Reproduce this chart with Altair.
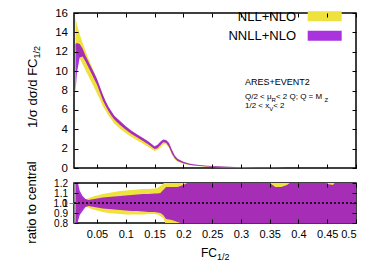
import altair as alt
import pandas as pd

FONT = "Liberation Sans"
YEL = "#efe23e"
PUR = "#9400d3"

# ---- top panel: 1/sigma dsigma/dFC_{1/2} bands ----
x_top = [0.0125, 0.015, 0.02, 0.025, 0.03, 0.035, 0.04, 0.045, 0.05, 0.055,
         0.06, 0.065, 0.07, 0.075, 0.08, 0.09, 0.10, 0.11, 0.12, 0.13,
         0.14, 0.15, 0.155, 0.16, 0.165, 0.17, 0.175, 0.18, 0.185, 0.19,
         0.20, 0.21, 0.22, 0.24, 0.26, 0.28, 0.30, 0.33, 0.36, 0.38]
nnll_lo = [7.7, 9.8, 11.4, 11.5, 11.0, 10.4, 9.8, 9.2, 8.6, 7.8,
           7.0, 6.4, 5.85, 5.4, 5.0, 4.45, 3.95, 3.5, 3.15, 2.8,
           2.4, 1.95, 2.05, 2.35, 2.65, 2.6, 2.2, 1.5, 1.0, 0.72,
           0.48, 0.34, 0.25, 0.15, 0.10, 0.06, 0.04, 0.02, 0.01, 0.0]
nnll_hi = [12.8, 12.9, 12.8, 12.3, 11.6, 11.0, 10.4, 9.8, 9.2, 8.4,
           7.6, 6.9, 6.3, 5.85, 5.4, 4.85, 4.3, 3.85, 3.45, 3.1,
           2.7, 2.25, 2.4, 2.7, 2.95, 2.9, 2.6, 1.9, 1.3, 0.95,
           0.65, 0.47, 0.36, 0.24, 0.17, 0.12, 0.08, 0.05, 0.03, 0.015]
nll_lo = [12.4, 12.0, 11.3, 10.7, 10.1, 9.5, 8.9, 8.3, 7.7, 7.1,
          6.4, 5.9, 5.4, 5.0, 4.6, 4.05, 3.6, 3.2, 2.85, 2.5,
          2.15, 1.75, 1.85, 2.1, 2.45, 2.45, 2.1, 1.4, 0.9, 0.65,
          0.42, 0.30, 0.22, 0.13, 0.08, 0.05, 0.03, 0.015, 0.005, 0.0]
nll_hi = [15.5, 14.8, 13.8, 12.9, 12.1, 11.3, 10.6, 9.9, 9.2, 8.4,
          7.6, 6.9, 6.3, 5.8, 5.4, 4.8, 4.25, 3.8, 3.4, 3.05,
          2.65, 2.15, 2.3, 2.6, 2.85, 2.85, 2.45, 1.8, 1.25, 0.9,
          0.62, 0.45, 0.34, 0.22, 0.16, 0.11, 0.07, 0.04, 0.025, 0.01]

# ---- bottom panel: ratio to central ----
x_ratio = [0.0125, 0.015, 0.02, 0.025, 0.03, 0.035, 0.04, 0.05, 0.06, 0.07,
           0.08, 0.09, 0.10, 0.11, 0.12, 0.13, 0.14, 0.15, 0.155, 0.16,
           0.165, 0.17, 0.18, 0.19, 0.20, 0.21, 0.22, 0.30, 0.34, 0.35,
           0.36, 0.37, 0.38, 0.39, 0.40, 0.44, 0.45, 0.46, 0.47, 0.50]
nnll_rlo = [0.5, 0.78, 0.88, 0.92, 0.96, 0.97, 0.965, 0.955, 0.945, 0.94,
            0.935, 0.93, 0.925, 0.92, 0.92, 0.915, 0.91, 0.91, 0.905, 0.90,
            0.88, 0.84, 0.83, 0.81, 0.79, 0.78, 0.75, 0.75, 0.75, 0.78,
            0.79, 0.79, 0.79, 0.78, 0.75, 0.75, 0.77, 0.76, 0.75, 0.75]
nnll_rhi = [1.5, 1.25, 1.12, 1.07, 1.04, 1.03, 1.035, 1.045, 1.055, 1.06,
            1.065, 1.07, 1.075, 1.08, 1.085, 1.09, 1.09, 1.095, 1.095, 1.10,
            1.13, 1.16, 1.16, 1.16, 1.18, 1.21, 1.25, 1.25, 1.25, 1.20,
            1.16, 1.16, 1.18, 1.22, 1.25, 1.25, 1.19, 1.18, 1.25, 1.25]
nll_rlo = [0.6, 0.85, 0.92, 0.95, 0.96, 0.955, 0.94, 0.925, 0.91, 0.90,
           0.895, 0.89, 0.885, 0.885, 0.885, 0.885, 0.89, 0.89, 0.885, 0.87,
           0.85, 0.78, 0.70, 0.70, 0.70, 0.70, 0.70, 0.70, 0.70, 0.70,
           0.70, 0.70, 0.70, 0.70, 0.70, 0.70, 0.70, 0.70, 0.70, 0.70]
nll_rhi = [1.4, 1.15, 1.08, 1.05, 1.04, 1.045, 1.06, 1.075, 1.09, 1.10,
           1.11, 1.12, 1.125, 1.13, 1.135, 1.14, 1.14, 1.145, 1.15, 1.17,
           1.19, 1.25, 1.30, 1.30, 1.30, 1.30, 1.30, 1.30, 1.30, 1.30,
           1.30, 1.30, 1.30, 1.30, 1.30, 1.30, 1.30, 1.30, 1.30, 1.30]

x_ticks = [0.05, 0.1, 0.15, 0.2, 0.25, 0.3, 0.35, 0.4, 0.45, 0.5]
y_ticks_top = [0, 2, 4, 6, 8, 10, 12, 14, 16]
y_ticks_ratio = [0.8, 0.9, 1.0, 1.1, 1.2]

df_top = pd.DataFrame({"x": x_top, "nnll_lo": nnll_lo, "nnll_hi": nnll_hi,
                       "nll_lo": nll_lo, "nll_hi": nll_hi})
df_rat = pd.DataFrame({"x": x_ratio, "nnll_lo": nnll_rlo, "nnll_hi": nnll_rhi,
                       "nll_lo": nll_rlo, "nll_hi": nll_rhi})
one = pd.DataFrame({"a": [0]})

xscale = alt.Scale(domain=[0.01, 0.5], nice=False, zero=False)
yscale_top = alt.Scale(domain=[0, 16], nice=False, zero=False)
yscale_rat = alt.Scale(domain=[0.8, 1.2], nice=False, zero=False)


def ax(orient, values, labels, pad=6, size=11):
    return alt.Axis(orient=orient, values=values, labels=labels, ticks=True,
                    tickSize=4, offset=-4, domain=False, grid=False, title=None,
                    labelPadding=pad, labelFont=FONT, labelFontSize=size,
                    labelColor="black", tickColor="black", tickWidth=1,
                    labelOverlap=False, format="~g", zindex=1)


def txt(s, x, y, size, align="left", angle=0, baseline="middle"):
    return alt.Chart(one).mark_text(
        text=s, align=align, baseline=baseline, fontSize=size, font=FONT,
        angle=angle, color="black").encode(x=alt.value(x), y=alt.value(y))


def box(color, x1, x2, y1, y2, op=1.0):
    return alt.Chart(one).mark_rect(color=color, opacity=op).encode(
        x=alt.value(x1), x2=alt.value(x2), y=alt.value(y1), y2=alt.value(y2))


yel_top = alt.Chart(df_top).mark_area(color=YEL, opacity=1).encode(
    x=alt.X("x:Q", scale=xscale, axis=ax("bottom", x_ticks, False)),
    y=alt.Y("nll_lo:Q", scale=yscale_top, axis=ax("left", y_ticks_top, True, 6.5, 11.5)),
    y2="nll_hi:Q")
pur_top = alt.Chart(df_top).mark_area(color=PUR, opacity=0.8).encode(
    x=alt.X("x:Q", scale=xscale, axis=ax("top", x_ticks, False)),
    y=alt.Y("nnll_lo:Q", scale=yscale_top, axis=ax("right", y_ticks_top, False)),
    y2="nnll_hi:Q")

top_layers = [
    yel_top, pur_top,
    txt("NLL+NLO", 222, 4.3, 13, align="right"),
    box(YEL, 233.7, 267.7, -1.7, 8.3),
    txt("NNLL+NLO", 222, 23.2, 13, align="right"),
    box(PUR, 233.7, 267.7, 17.7, 27.7, 0.8),
    txt("ARES+EVENT2", 171, 69.3, 9),
    txt("Q/2 < \u03bc", 171, 84.3, 8),
    txt("R", 197.6, 86.8, 6),
    txt(" < 2 Q; Q = M", 201.9, 84.3, 8),
    txt("Z", 250.4, 86.8, 6),
    txt("1/2 < x", 171, 93.3, 8),
    txt("V", 195.2, 95.8, 6),
    txt(" < 2", 199.2, 93.3, 8),
    txt("1/\u03c3 d\u03c3/d FC", -41, 45.5, 13, align="right", angle=270),
    txt("1/2", -37.5, 45.5, 9, align="left", angle=270),
]
top = alt.layer(*top_layers).resolve_axis(x="independent", y="independent").properties(
    width=282, height=155)

yel_rat = alt.Chart(df_rat).mark_area(color=YEL, opacity=1, clip=True).encode(
    x=alt.X("x:Q", scale=xscale, axis=ax("bottom", x_ticks, True, 5.0)),
    y=alt.Y("nll_lo:Q", scale=yscale_rat, axis=ax("left", y_ticks_ratio, True, 6.5, 10)),
    y2="nll_hi:Q")
pur_rat = alt.Chart(df_rat).mark_area(color=PUR, opacity=0.8, clip=True).encode(
    x=alt.X("x:Q", scale=xscale, axis=ax("top", x_ticks, False)),
    y=alt.Y("nnll_lo:Q", scale=yscale_rat, axis=ax("right", y_ticks_ratio, False)),
    y2="nnll_hi:Q")
central = alt.Chart(one).mark_rule(color="black", strokeWidth=1.5, strokeDash=[2, 2]).encode(
    y=alt.datum(1.0, scale=yscale_rat))

bot_layers = [
    yel_rat, pur_rat, central,
    txt("ratio to central", -42.5, 19.5, 13, align="center", angle=270),
    txt("FC", 143, 70, 12, align="right"),
    txt("1/2", 143, 74, 9, align="left"),
]
bottom = alt.layer(*bot_layers).resolve_axis(x="independent", y="independent").properties(
    width=282, height=40)

chart = alt.vconcat(top, bottom, spacing=-15).properties(
    padding={"left": 16, "top": -2, "right": 5, "bottom": 0}
).configure(font=FONT).configure_view(stroke="black", strokeWidth=1.5)

chart.save("out.html", embed_options={"renderer": "svg", "actions": False})
